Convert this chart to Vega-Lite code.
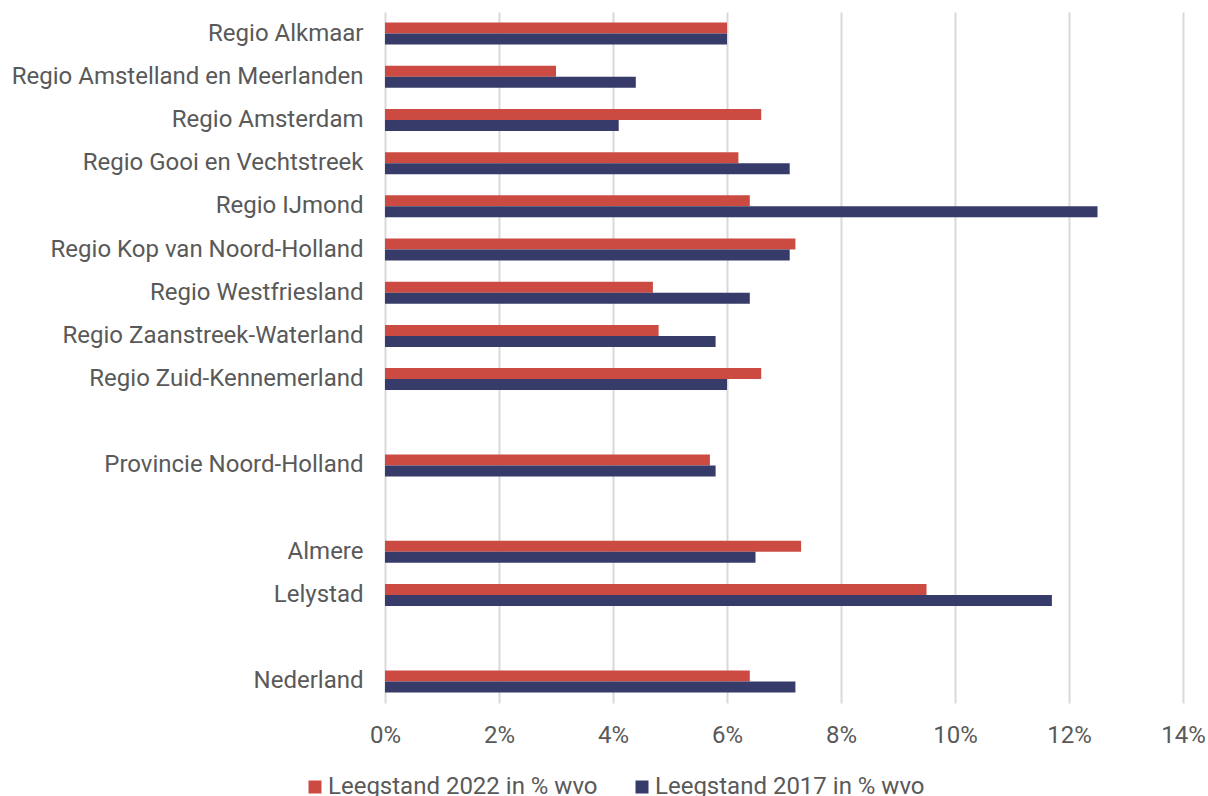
{
  "$schema": "https://vega.github.io/schema/vega-lite/v6.json",
  "width": 798,
  "height": 691,
  "autosize": "none",
  "padding": {"left": 385, "top": 12, "right": 25, "bottom": 93},
  "background": "white",
  "config": {
    "view": {"stroke": null},
    "font": "Roboto"
  },
  "data": {
    "values": [
      {"regio": "Regio Alkmaar", "reeks": "Leegstand 2022 in % wvo", "waarde": 6.0},
      {"regio": "Regio Alkmaar", "reeks": "Leegstand 2017 in % wvo", "waarde": 6.0},
      {"regio": "Regio Amstelland en Meerlanden", "reeks": "Leegstand 2022 in % wvo", "waarde": 3.0},
      {"regio": "Regio Amstelland en Meerlanden", "reeks": "Leegstand 2017 in % wvo", "waarde": 4.4},
      {"regio": "Regio Amsterdam", "reeks": "Leegstand 2022 in % wvo", "waarde": 6.6},
      {"regio": "Regio Amsterdam", "reeks": "Leegstand 2017 in % wvo", "waarde": 4.1},
      {"regio": "Regio Gooi en Vechtstreek", "reeks": "Leegstand 2022 in % wvo", "waarde": 6.2},
      {"regio": "Regio Gooi en Vechtstreek", "reeks": "Leegstand 2017 in % wvo", "waarde": 7.1},
      {"regio": "Regio IJmond", "reeks": "Leegstand 2022 in % wvo", "waarde": 6.4},
      {"regio": "Regio IJmond", "reeks": "Leegstand 2017 in % wvo", "waarde": 12.5},
      {"regio": "Regio Kop van Noord-Holland", "reeks": "Leegstand 2022 in % wvo", "waarde": 7.2},
      {"regio": "Regio Kop van Noord-Holland", "reeks": "Leegstand 2017 in % wvo", "waarde": 7.1},
      {"regio": "Regio Westfriesland", "reeks": "Leegstand 2022 in % wvo", "waarde": 4.7},
      {"regio": "Regio Westfriesland", "reeks": "Leegstand 2017 in % wvo", "waarde": 6.4},
      {"regio": "Regio Zaanstreek-Waterland", "reeks": "Leegstand 2022 in % wvo", "waarde": 4.8},
      {"regio": "Regio Zaanstreek-Waterland", "reeks": "Leegstand 2017 in % wvo", "waarde": 5.8},
      {"regio": "Regio Zuid-Kennemerland", "reeks": "Leegstand 2022 in % wvo", "waarde": 6.6},
      {"regio": "Regio Zuid-Kennemerland", "reeks": "Leegstand 2017 in % wvo", "waarde": 6.0},
      {"regio": "Provincie Noord-Holland", "reeks": "Leegstand 2022 in % wvo", "waarde": 5.7},
      {"regio": "Provincie Noord-Holland", "reeks": "Leegstand 2017 in % wvo", "waarde": 5.8},
      {"regio": "Almere", "reeks": "Leegstand 2022 in % wvo", "waarde": 7.3},
      {"regio": "Almere", "reeks": "Leegstand 2017 in % wvo", "waarde": 6.5},
      {"regio": "Lelystad", "reeks": "Leegstand 2022 in % wvo", "waarde": 9.5},
      {"regio": "Lelystad", "reeks": "Leegstand 2017 in % wvo", "waarde": 11.7},
      {"regio": "Nederland", "reeks": "Leegstand 2022 in % wvo", "waarde": 6.4},
      {"regio": "Nederland", "reeks": "Leegstand 2017 in % wvo", "waarde": 7.2}
    ]
  },
  "mark": {"type": "bar"},
  "encoding": {
    "y": {
      "field": "regio",
      "type": "nominal",
      "scale": {
        "domain": ["Regio Alkmaar", "Regio Amstelland en Meerlanden", "Regio Amsterdam", "Regio Gooi en Vechtstreek", "Regio IJmond", "Regio Kop van Noord-Holland", "Regio Westfriesland", "Regio Zaanstreek-Waterland", "Regio Zuid-Kennemerland", " ", "Provincie Noord-Holland", "  ", "Almere", "Lelystad", "   ", "Nederland"],
        "paddingInner": 0.49,
        "paddingOuter": 0.245
      },
      "axis": {
        "title": null,
        "ticks": false,
        "domain": false,
        "labelFontSize": 24,
        "labelColor": "#595959",
        "labelPadding": 22,
        "labelLimit": 0
      }
    },
    "yOffset": {
      "field": "reeks",
      "type": "nominal",
      "sort": ["Leegstand 2022 in % wvo", "Leegstand 2017 in % wvo"],
      "scale": {"paddingInner": 0, "paddingOuter": 0}
    },
    "x": {
      "field": "waarde",
      "type": "quantitative",
      "scale": {"domain": [0, 14], "nice": false},
      "axis": {
        "title": null,
        "values": [0, 2, 4, 6, 8, 10, 12, 14],
        "labelExpr": "datum.value + '%'",
        "ticks": false,
        "domain": false,
        "grid": true,
        "gridColor": "#d9d9d9",
        "gridWidth": 2,
        "labelFontSize": 24,
        "labelColor": "#595959",
        "labelPadding": 20,
        "labelFlush": false
      }
    },
    "color": {
      "field": "reeks",
      "type": "nominal",
      "sort": ["Leegstand 2022 in % wvo", "Leegstand 2017 in % wvo"],
      "scale": {
        "domain": ["Leegstand 2022 in % wvo", "Leegstand 2017 in % wvo"],
        "range": ["#CB4B42", "#373B6A"]
      },
      "legend": {
        "title": null,
        "orient": "none",
        "direction": "horizontal",
        "legendX": -82,
        "legendY": 763,
        "symbolType": "square",
        "symbolSize": 169,
        "symbolStrokeWidth": 0,
        "labelFontSize": 24,
        "labelColor": "#595959",
        "labelOffset": 1,
        "columnPadding": 32,
        "labelLimit": 0
      }
    }
  }
}
